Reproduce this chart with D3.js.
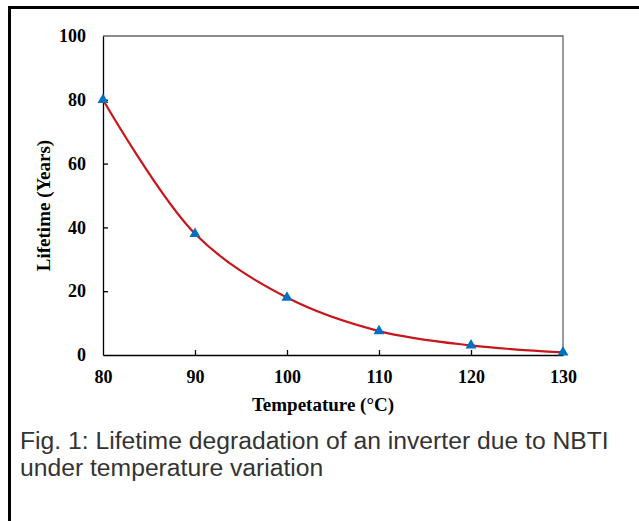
<!DOCTYPE html>
<html>
<head>
<meta charset="utf-8">
<script src="https://cdn.jsdelivr.net/npm/d3@7"></script>
<style>
  html, body { margin: 0; padding: 0; background: #fff; }
  svg { display: block; }
</style>
</head>
<body>
<svg id="chart" width="639" height="521"></svg>
<script>
const temperatures = [80, 90, 100, 110, 120, 130];
const lifetimes = [80, 38, 18, 7.5, 3, 0.8];
const xTicks = [80, 90, 100, 110, 120, 130];
const yTicks = [0, 20, 40, 60, 80, 100];
const xTitle = "Tempetature (°C)";
const yTitle = "Lifetime (Years)";
const captionLines = ["Fig. 1: Lifetime degradation of an inverter due to NBTI", "under temperature variation"];

const svg = d3.select("#chart");
const W = 639, H = 521;
const m = {left: 103, right: 563, top: 36, bottom: 355};

// outer frame (top and left edges)
svg.append("line").attr("x1", 8).attr("x2", W).attr("y1", 7.5).attr("y2", 7.5)
  .attr("stroke", "#000").attr("stroke-width", 3);
svg.append("line").attr("x1", 9.5).attr("x2", 9.5).attr("y1", 6).attr("y2", H)
  .attr("stroke", "#000").attr("stroke-width", 3);

const x = d3.scaleLinear().domain([80, 130]).range([m.left, m.right]);
const y = d3.scaleLinear().domain([0, 100]).range([m.bottom, m.top]);

// top & right frame lines
svg.append("path")
  .attr("d", `M${m.left},${m.top}H${m.right}V${m.bottom}`)
  .attr("fill", "none").attr("stroke", "#666").attr("stroke-width", 1.3);

const tickFont = "'Liberation Serif', 'Times New Roman', serif";

const xAxis = svg.append("g").attr("transform", `translate(0,${m.bottom})`)
  .call(d3.axisBottom(x).tickValues(xTicks).tickSize(-5).tickSizeOuter(0).tickPadding(15).tickFormat(d3.format("d")));
const yAxis = svg.append("g").attr("transform", `translate(${m.left},0)`)
  .call(d3.axisLeft(y).tickValues(yTicks).tickSize(-5).tickSizeOuter(0).tickPadding(17).tickFormat(d3.format("d")));

[xAxis, yAxis].forEach(g => {
  g.select(".domain").attr("stroke", "#000").attr("stroke-width", 1.3);
  g.selectAll(".tick line").attr("stroke", "#000").attr("stroke-width", 1.3);
  g.selectAll(".tick text").attr("fill", "#000").style("font-family", tickFont)
    .style("font-weight", "bold").style("font-size", "18px");
});
xAxis.selectAll(".tick line").filter(d => d === 80 || d === 130).remove();
yAxis.selectAll(".tick line").filter(d => d === 0 || d === 100).remove();

// axis titles
svg.append("text").attr("x", 323).attr("y", 411)
  .attr("text-anchor", "middle").style("font-family", tickFont)
  .style("font-weight", "bold").style("font-size", "19px").text(xTitle);
svg.append("text").attr("transform", `translate(50,${(m.top + m.bottom) / 2 + 10}) rotate(-90)`)
  .attr("text-anchor", "middle").style("font-family", tickFont)
  .style("font-weight", "bold").style("font-size", "19px").text(yTitle);

// curve
const data = temperatures.map((t, i) => ({t, v: lifetimes[i]}));
const line = d3.line().x(d => x(d.t)).y(d => y(d.v)).curve(d3.curveCatmullRom.alpha(0.5));
svg.append("path").datum(data).attr("d", line)
  .attr("fill", "none").attr("stroke", "#C8161D").attr("stroke-width", 2.2);

// markers
const tri = d3.symbol().type(d3.symbolTriangle).size(52);
svg.selectAll(".pt").data(data).join("path")
  .attr("class", "pt")
  .attr("transform", d => `translate(${x(d.t)},${y(d.v)})`)
  .attr("d", tri).attr("fill", "#0070C0");

// caption
svg.append("text").attr("x", 20).attr("y", 449)
  .style("font-family", "'Liberation Sans', Arial, sans-serif").style("font-size", "24.7px")
  .attr("fill", "#333")
  .selectAll("tspan").data(captionLines).join("tspan")
  .attr("x", 20).attr("dy", (d, i) => i === 0 ? 0 : 27).text(d => d);
</script>
</body>
</html>
